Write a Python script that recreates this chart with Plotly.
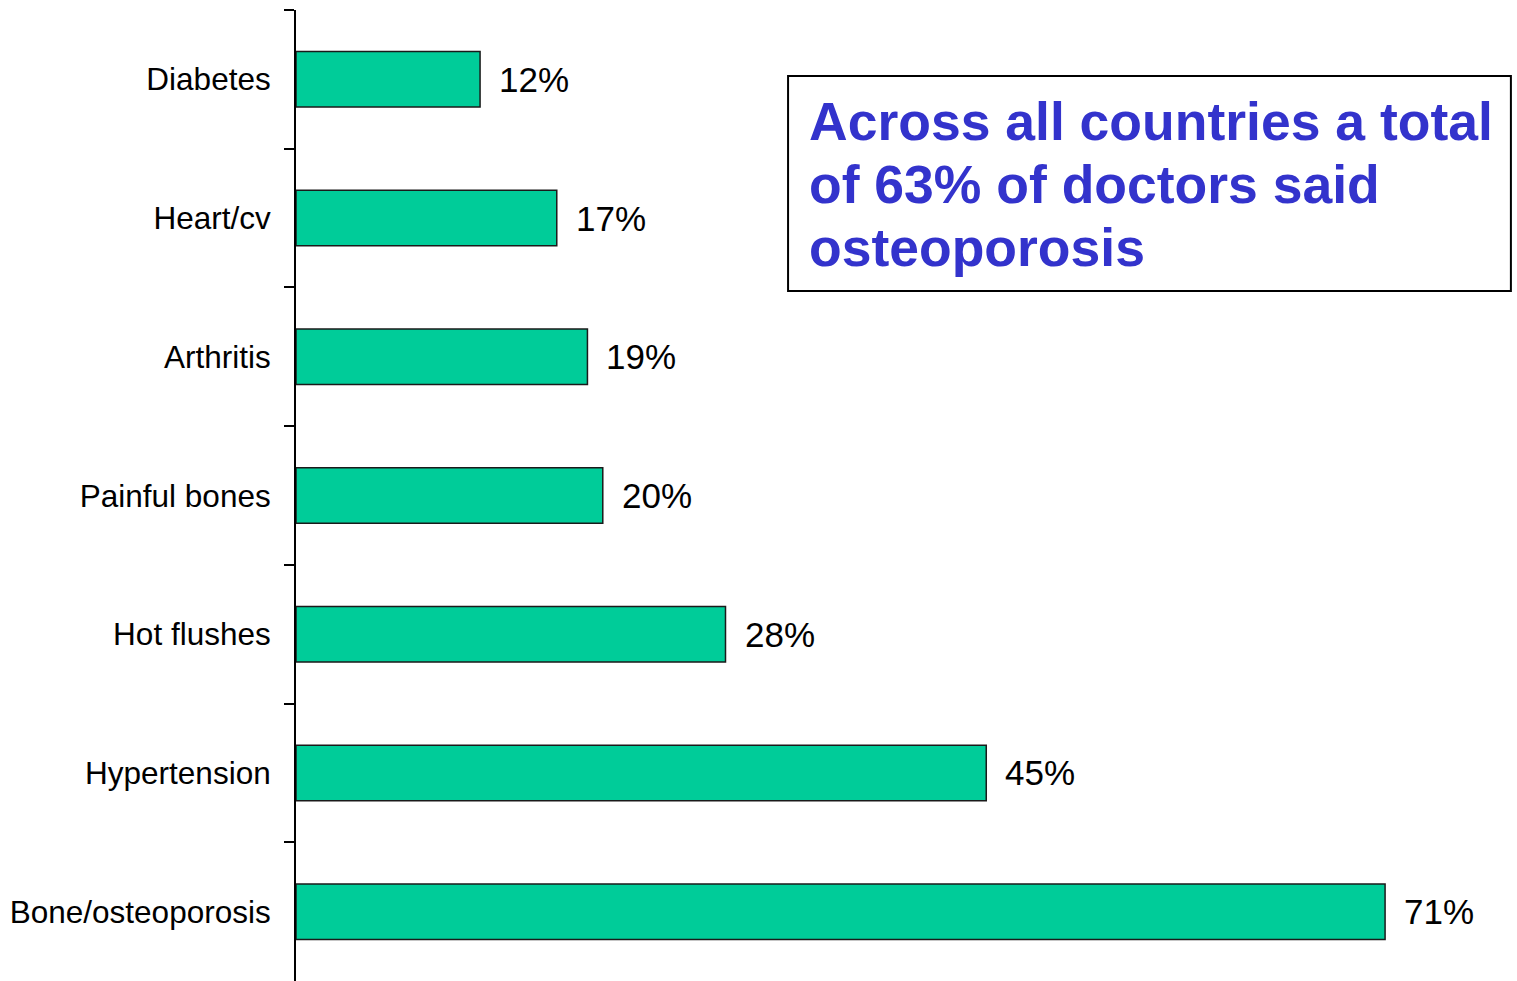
import plotly.graph_objects as go

# data
categories = ["Diabetes", "Heart/cv", "Arthritis", "Painful bones",
              "Hot flushes", "Hypertension", "Bone/osteoporosis"]
values = [12, 17, 19, 20, 28, 45, 71]
value_labels = [f"{v}%" for v in values]
callout_lines = ["Across all countries a total",
                 "of 63% of doctors said",
                 "osteoporosis"]

BAR_COLOR = "#00CC99"
TEXT_FONT = "Liberation Sans, Arial, sans-serif"

fig = go.Figure()

fig.add_trace(go.Bar(
    x=values,
    y=categories,
    orientation="h",
    marker=dict(color=BAR_COLOR, line=dict(color="#1a1a1a", width=1.5)),
    hoverinfo="x+y",
))

# value labels to the right of each bar
for cat, val, lab in zip(categories, values, value_labels):
    fig.add_annotation(
        x=val, y=cat, xref="x", yref="y",
        text=lab, showarrow=False,
        xanchor="left", yanchor="middle", xshift=17,
        font=dict(family=TEXT_FONT, size=35, color="black"),
    )

# boxed callout: frame + one annotation per line (tighter line spacing)
fig.add_shape(
    type="rect", xref="paper", yref="paper",
    x0=0.403, x1=0.995, y0=0.7106, y1=0.932,
    line=dict(color="black", width=2), fillcolor="white", layer="above",
)
for line_y, line_text in zip([0.8847, 0.8198, 0.7549], callout_lines):
    fig.add_annotation(
        x=0.421, y=line_y, xref="paper", yref="paper",
        xanchor="left", yanchor="middle", xshift=-3,
        text=line_text, showarrow=False,
        font=dict(family=TEXT_FONT, size=53.5, color="#3333CC", weight="bold"),
    )

fig.update_layout(
    width=1517,
    height=981,
    margin=dict(l=296, r=0, t=10, b=0),
    plot_bgcolor="white",
    paper_bgcolor="white",
    showlegend=False,
    bargap=0.6,
    font=dict(family=TEXT_FONT, color="black"),
    xaxis=dict(range=[0, 79.6], visible=False, fixedrange=True),
    yaxis=dict(
        type="category",
        categoryorder="array",
        categoryarray=categories,
        autorange="reversed",
        showline=True, linecolor="black", linewidth=2,
        ticks="outside", tickson="boundaries", ticklen=10,
        tickcolor="black", tickwidth=2,
        ticklabelstandoff=17,
        showgrid=False, zeroline=False,
        tickfont=dict(family=TEXT_FONT, size=31.5, color="black"),
    ),
)

# drop the default body margin so the figure fills the window exactly
fig.write_html("out.html",
               config={"displayModeBar": False},
               post_script="document.body.style.margin='0';document.body.style.overflow='hidden';")
